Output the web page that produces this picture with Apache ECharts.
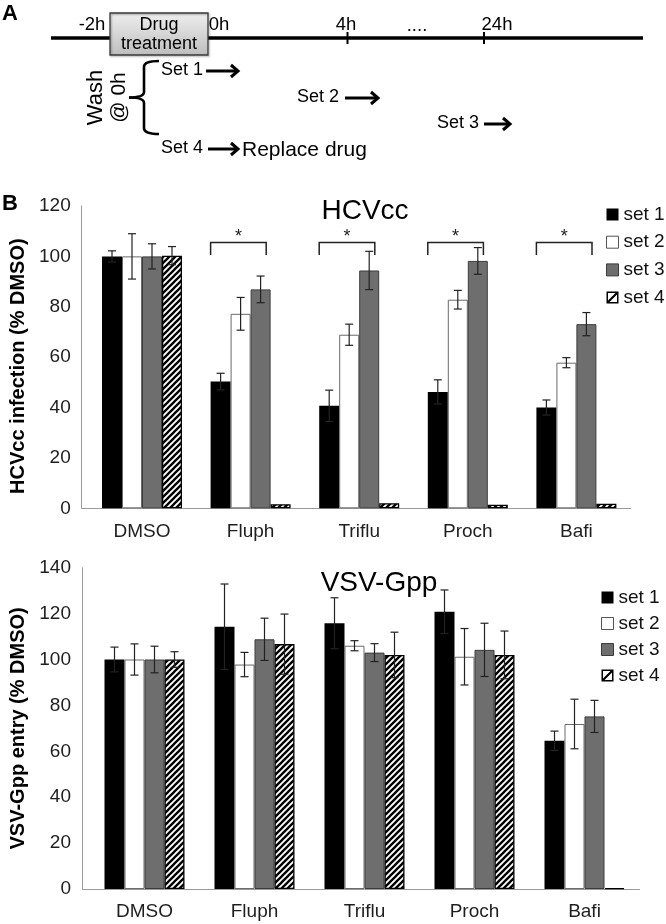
<!DOCTYPE html>
<html><head><meta charset="utf-8">
<script src="https://cdn.jsdelivr.net/npm/echarts@6/dist/echarts.min.js"></script>
<style>html,body{margin:0;padding:0;background:#fff}#c{width:666px;height:924px}</style>
</head><body><div id="c"></div>
<script>
// ---------- data ----------
const categories = ['DMSO', 'Fluph', 'Triflu', 'Proch', 'Bafi'];
const setNames = ['set 1', 'set 2', 'set 3', 'set 4'];

const hcvSet1 = [100, 50.3, 40.7, 46.2, 40.0];
const hcvSet2 = [100, 77.2, 68.9, 82.8, 57.8];
const hcvSet3 = [100, 86.9, 94.4, 98.2, 73.1];
const hcvSet4 = [100.3, 1.6, 2.0, 1.4, 1.8];
const hcvErr1 = [2.2, 3.3, 6.2, 4.8, 3.0];
const hcvErr2 = [9.0, 6.5, 4.2, 3.7, 2.0];
const hcvErr3 = [5.0, 5.3, 7.6, 5.3, 4.6];
const hcvErr4 = [3.6, 0, 0, 0, 0];
const hcvTickLabels = [0, 20, 40, 60, 80, 100, 120];
const hcvSignificant = ['Fluph', 'Triflu', 'Proch', 'Bafi'];

const vsvSet1 = [100, 114.3, 115.8, 120.8, 64.6];
const vsvSet2 = [100, 97.8, 106.0, 101.2, 71.9];
const vsvSet3 = [100, 108.8, 103.0, 104.2, 75.2];
const vsvSet4 = [100, 106.7, 102.0, 102.0, 0.4];
const vsvErr1 = [5.4, 18.6, 11.1, 9.5, 4.2];
const vsvErr2 = [6.8, 5.3, 2.2, 12.3, 10.8];
const vsvErr3 = [5.8, 9.2, 3.9, 11.6, 7.0];
const vsvErr4 = [3.4, 13.1, 9.9, 10.4, 0];
const vsvTickLabels = [0, 20, 40, 60, 80, 100, 120, 140];

// ---------- styles ----------
const FONT = "'Liberation Sans', Arial, Helvetica, sans-serif";
const AXIS_C = '#9a9a9a';
const TEXT_C = '#1e1e1e';
const BW = 20;           // bar width (px)
const SIG_TOP = 105.5;   // bracket height (value units)
const SIG_LEG = 100.5;

function hatchCanvas() {
  const s = 6, c = document.createElement('canvas');
  c.width = s; c.height = s;
  const g = c.getContext('2d');
  g.fillStyle = '#fff'; g.fillRect(0, 0, s, s);
  g.strokeStyle = '#000'; g.lineWidth = 2.3;
  g.beginPath();
  g.moveTo(-1, s + 1); g.lineTo(s + 1, -1);
  g.moveTo(-2, 2); g.lineTo(2, -2);
  g.moveTo(s - 2, s + 2); g.lineTo(s + 2, s - 2);
  g.stroke();
  return c;
}
const hatch = { image: hatchCanvas(), repeat: 'repeat' };

const barStyles = [
  { color: '#000' },
  { color: '#fff', borderColor: '#6a6a6a', borderWidth: 1 },
  { color: '#6e6e6e', borderColor: '#3c3c3c', borderWidth: 1 },
  { color: hatch, borderColor: '#000', borderWidth: 1.3 }
];

const set4Icon = 'path://M0 0L12 0L12 12L0 12Z M1.5 1.5L1.5 9L9 1.5Z M10.5 10.5L10.5 3L3 10.5Z';
const legendData = [
  { name: 'set 1', icon: 'rect', itemStyle: { color: '#000', borderWidth: 0 } },
  { name: 'set 2', icon: 'rect', itemStyle: { color: '#fff', borderColor: '#555', borderWidth: 1 } },
  { name: 'set 3', icon: 'rect', itemStyle: { color: '#6e6e6e', borderColor: '#3c3c3c', borderWidth: 1 } },
  { name: 'set 4', icon: set4Icon, itemStyle: { color: '#000', borderWidth: 0 } }
];

const GRIDS = [
  { left: 87.7, top: 206, width: 543, height: 302.3, yOff: 6 },
  { left: 89.5, top: 567.7, width: 550, height: 321.3, yOff: 7.5 }
];

function barSeries(gi, idx, data) {
  return {
    type: 'bar', name: setNames[idx], data: data, xAxisIndex: gi, yAxisIndex: gi,
    barWidth: BW, barGap: '0%', itemStyle: barStyles[idx], z: 2,
    emphasis: { disabled: true }, silent: true
  };
}
function errSeries(gi, idx, vals, errs) {
  return {
    type: 'custom', xAxisIndex: gi, yAxisIndex: gi, z: 5, silent: true,
    data: vals.map((v, i) => [i, v, errs[i]]),
    renderItem: function (p, api) {
      const x = api.value(0), v = api.value(1), e = api.value(2);
      if (!e) return null;
      const t = api.coord([x, v + e]), b = api.coord([x, v - e]);
      const cx = t[0] + (idx - 1.5) * BW;
      const st = { stroke: '#222', lineWidth: 1.2 };
      return { type: 'group', children: [
        { type: 'line', shape: { x1: cx, y1: t[1], x2: cx, y2: b[1] }, style: st },
        { type: 'line', shape: { x1: cx - 4, y1: t[1], x2: cx + 4, y2: t[1] }, style: st },
        { type: 'line', shape: { x1: cx - 4, y1: b[1], x2: cx + 4, y2: b[1] }, style: st }
      ]};
    }
  };
}
function sigSeries() {
  return {
    type: 'custom', xAxisIndex: 0, yAxisIndex: 0, z: 5, silent: true,
    data: hcvSignificant.map(c => [categories.indexOf(c), SIG_TOP, SIG_LEG]),
    renderItem: function (p, api) {
      const t = api.coord([api.value(0), api.value(1)]);
      const l = api.coord([api.value(0), api.value(2)]);
      const x0 = t[0] - 2 * BW, x1 = t[0] + 0.78 * BW;
      return { type: 'group', children: [
        { type: 'polyline', shape: { points: [[x0, l[1]], [x0, t[1]], [x1, t[1]], [x1, l[1]]] },
          style: { stroke: '#222', lineWidth: 1.5, fill: null } },
        { type: 'text', x: (x0 + x1) / 2, y: t[1] - 5,
          style: { text: '*', font: '18px ' + FONT, fill: '#222', align: 'center', verticalAlign: 'middle',
                   textAlign: 'center', textVerticalAlign: 'middle' } }
      ]};
    }
  };
}

function yAxis(gi, ticks, name, namePad) {
  return {
    type: 'value', gridIndex: gi, min: ticks[0], max: ticks[ticks.length - 1],
    interval: ticks[1] - ticks[0], offset: GRIDS[gi].yOff,
    axisLine: { show: true, lineStyle: { color: AXIS_C, width: 1 } },
    axisTick: { show: false }, splitLine: { show: false },
    axisLabel: { color: TEXT_C, fontSize: 19, fontFamily: FONT, margin: 11 },
    name: name, nameLocation: 'middle', nameGap: 51, nameRotate: 90,
    nameTextStyle: { color: '#000', fontSize: 20, fontWeight: 'bold', fontFamily: FONT, padding: namePad }
  };
}
function xAxis(gi, margin) {
  return {
    type: 'category', gridIndex: gi, data: categories, boundaryGap: true,
    axisLine: { show: true, lineStyle: { color: AXIS_C, width: 1 } },
    axisTick: { show: false },
    axisLabel: { color: TEXT_C, fontSize: 19, fontFamily: FONT, margin: margin, interval: 0 }
  };
}

function txt(text, x, y, size, o) {
  o = o || {};
  return { type: 'text', x: x, y: y, rotation: o.rot || 0, z: o.z || 10,
    style: { text: text, x: 0, y: 0, font: (o.bold ? 'bold ' : '') + size + 'px ' + FONT, fill: '#000',
      align: o.align || 'center', verticalAlign: 'middle',
      textAlign: o.align || 'center', textVerticalAlign: 'middle' } };
}
function seg(x1, y1, x2, y2, w) {
  return { type: 'line', z: 10, shape: { x1: x1, y1: y1, x2: x2, y2: y2 }, style: { stroke: '#000', lineWidth: w || 3 } };
}
function curve(x1, y1, cx, cy, x2, y2, w) {
  return { type: 'bezierCurve', z: 10, shape: { x1: x1, y1: y1, x2: x2, y2: y2, cpx1: cx, cpy1: cy },
    style: { stroke: '#000', lineWidth: w, fill: null } };
}
function arrow(x1, x2, y) {
  return [seg(x1, y, x2 - 2, y, 3),
    { type: 'polyline', z: 10, shape: { points: [[x2 - 7, y - 6], [x2, y], [x2 - 7, y + 6]] },
      style: { stroke: '#000', lineWidth: 3, fill: null, lineJoin: 'miter' } }];
}

const BRACE_W = 2.6;
const panelA = [
  txt('A', 2, 14, 22, { bold: true, align: 'left' }),
  seg(51, 38, 643, 38, 3.3),
  seg(347.5, 32, 347.5, 44, 2),
  seg(484, 32, 484, 44, 2),
  { type: 'rect', z: 11, shape: { x: 110, y: 13, width: 98, height: 42 },
    style: { fill: new echarts.graphic.LinearGradient(0, 0, 0, 1, [{ offset: 0, color: '#efefef' }, { offset: 1, color: '#bdbdbd' }]),
      stroke: '#3a3a3a', lineWidth: 1.3, shadowBlur: 2, shadowOffsetX: 1, shadowOffsetY: 1, shadowColor: 'rgba(0,0,0,0.35)' } },
  txt('Drug', 159, 25, 18, { z: 12 }),
  txt('treatment', 159, 44, 18, { z: 12 }),
  txt('-2h', 92, 25, 18.5),
  txt('0h', 219, 25, 18.5),
  txt('4h', 346, 25, 18.5),
  txt('....', 417, 26, 18.5),
  txt('24h', 497, 25, 18.5),
  txt('Wash', 96, 97.5, 22, { rot: Math.PI / 2 }),
  txt('@ 0h', 119, 97.5, 21, { rot: Math.PI / 2 }),
  curve(159, 61, 144, 61, 144, 67, BRACE_W),
  seg(144, 67, 144, 92, BRACE_W),
  curve(144, 92, 144, 97.5, 129, 97.5, BRACE_W),
  curve(129, 97.5, 144, 97.5, 144, 103, BRACE_W),
  seg(144, 103, 144, 128, BRACE_W),
  curve(144, 128, 144, 134, 159, 134, BRACE_W),
  txt('Set 1', 161, 70, 18, { align: 'left' }),
  ...arrow(206, 238, 71),
  txt('Set 2', 297, 97, 18, { align: 'left' }),
  ...arrow(345, 378, 98),
  txt('Set 3', 437, 123, 18, { align: 'left' }),
  ...arrow(484, 510, 124),
  txt('Set 4', 161, 148, 18, { align: 'left' }),
  ...arrow(208, 238, 149),
  txt('Replace drug', 242, 150, 21, { align: 'left' }),
  txt('B', 2, 204, 22, { bold: true, align: 'left' }),
  txt('HCVcc', 365, 211, 28),
  txt('VSV-Gpp', 379, 583, 28)
];

const hcvSets = [hcvSet1, hcvSet2, hcvSet3, hcvSet4];
const hcvErrs = [hcvErr1, hcvErr2, hcvErr3, hcvErr4];
const vsvSets = [vsvSet1, vsvSet2, vsvSet3, vsvSet4];
const vsvErrs = [vsvErr1, vsvErr2, vsvErr3, vsvErr4];

const series = [];
hcvSets.forEach((d, i) => series.push(barSeries(0, i, d)));
vsvSets.forEach((d, i) => series.push(barSeries(1, i, d)));
hcvSets.forEach((d, i) => series.push(errSeries(0, i, d, hcvErrs[i])));
vsvSets.forEach((d, i) => series.push(errSeries(1, i, d, vsvErrs[i])));
series.push(sigSeries());

const legendBase = {
  orient: 'vertical', padding: 0, itemWidth: 12, itemHeight: 12, selectedMode: false,
  textStyle: { fontSize: 19, color: '#111', fontFamily: FONT }, data: legendData
};

const option = {
  animation: false,
  backgroundColor: '#fff',
  textStyle: { fontFamily: FONT },
  grid: GRIDS.map(g => ({ left: g.left, top: g.top, width: g.width, height: g.height, containLabel: false, outerBoundsMode: 'none' })),
  xAxis: [xAxis(0, 14), xAxis(1, 13)],
  yAxis: [yAxis(0, hcvTickLabels, 'HCVcc infection (% DMSO)', [0, 18, 0, 0]), yAxis(1, vsvTickLabels, 'VSV-Gpp entry (% DMSO)', [0, 0, 0, 0])],
  legend: [
    Object.assign({}, legendBase, { left: 606, top: 205, itemGap: 8.7 }),
    Object.assign({}, legendBase, { left: 601, top: 588, itemGap: 7 })
  ],
  series: series,
  graphic: { elements: panelA }
};

const chart = echarts.init(document.getElementById('c'), null, { renderer: 'canvas' });
chart.setOption(option);

// extend x-axis lines to the offset y-axes
const ext = GRIDS.map((g, gi) => {
  const p = chart.convertToPixel({ xAxisIndex: gi, yAxisIndex: gi }, [0, 0]);
  const y = Math.round(p[1]) + 0.5;
  return { type: 'line', z: 1, shape: { x1: g.left - g.yOff, y1: y, x2: g.left + 1, y2: y },
    style: { stroke: AXIS_C, lineWidth: 1 } };
});
chart.setOption({ graphic: { elements: panelA.concat(ext) } });
</script>
</body></html>
